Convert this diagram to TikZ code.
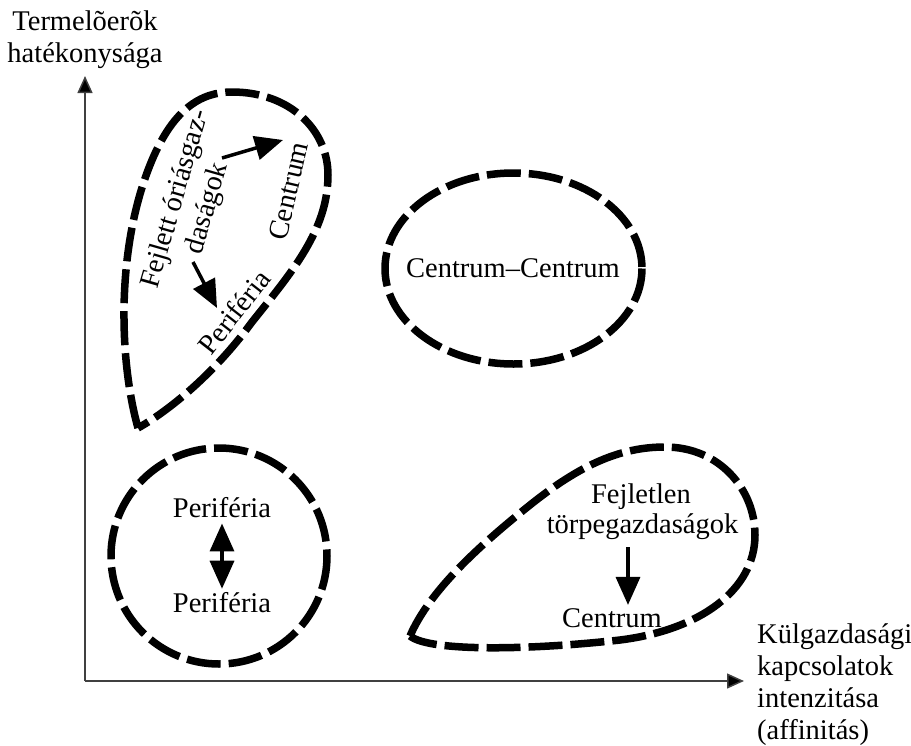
\documentclass[tikz,border=0pt]{standalone}
\usepackage{fontspec}
\setmainfont{Liberation Serif}[Ligatures=NoCommon]
\usetikzlibrary{arrows.meta}
\begin{document}
\begin{tikzpicture}[x=1pt,y=-1pt,
  txt/.style={font=\fontsize{28.5pt}{33pt}\selectfont, inner sep=0pt},
  blob/.style={line width=7.5pt, dash pattern=on 34pt off 8pt, line join=round},
  axis/.style={line width=1.5pt, draw=black!75, -{Triangle[length=17pt,width=15pt,fill=black]}},
  flow/.style={line width=3.5pt, -{Triangle[length=28pt,width=24pt]}}]
\path[use as bounding box] (0,0) rectangle (911,745);

% axes
\coordinate (O) at (85,681);
\coordinate (Ytip) at (85,76);
\coordinate (Xtip) at (744,681);
\draw[axis] (O) -- (Ytip);
\draw[axis] (O) -- (Xtip);
\node[txt,anchor=base] (yl1) at (85,30) {Termelõerõk};
\node[txt,anchor=base] (yl2) at (85,62) {hatékonysága};
\node[txt,anchor=base west] (xl1) at (757,643) {Külgazdasági};
\node[txt,anchor=base west] (xl2) at (757,675) {kapcsolatok};
\node[txt,anchor=base west] (xl3) at (757,707) {intenzitása};
\node[txt,anchor=base west] (xl4) at (757,739) {(affinitás)};

% top-left teardrop
\draw[blob] (138,428) .. controls (119,360) and (116,250) .. (150,165)
  .. controls (172,110) and (200,92) .. (232,92)
  .. controls (290,92) and (328,130) .. (328,175)
  .. controls (328,230) and (292,272) .. (252,322)
  .. controls (212,377) and (165,413) .. cycle;
\node[txt,rotate=74,align=center] (fej) at (192,204) {Fejlett óriásgaz-\\daságok};
\node[txt,rotate=77] (cen1) at (288.5,191) {Centrum};
\node[txt,rotate=52] (per1) at (234,312) {Periféria};
\coordinate (a1s) at (222,158);
\coordinate (a1e) at (283,140);
\coordinate (a2s) at (193,262);
\coordinate (a2e) at (217,308);
\draw[flow] (a1s) -- (a1e);
\draw[flow] (a2s) -- (a2e);

% ellipse
\draw[blob] (513.5,268.5) ellipse [x radius=128.5, y radius=95.5];
\node[txt,anchor=base] (cc) at (513,277) {Centrum–Centrum};

% circle
\draw[blob] (219,556) circle [radius=108];
\node[txt,anchor=base] (p1) at (222,517) {Periféria};
\node[txt,anchor=base] (p2) at (222,612) {Periféria};
\draw[line width=3.5pt, {Triangle[length=28pt,width=24pt]}-{Triangle[length=28pt,width=24pt]}, shorten <=6pt, shorten >=3pt] (p1.south) -- (p2.north);

% bottom-right teardrop
\draw[blob] (410,636) .. controls (430,590) and (480,545) .. (530,505)
  .. controls (580,465) and (620,447) .. (665,447)
  .. controls (720,447) and (755,490) .. (755,535)
  .. controls (755,590) and (700,630) .. (620,640)
  .. controls (530,650) and (430,652) .. cycle;
\node[txt,anchor=base] (fl1) at (641,503) {Fejletlen};
\node[txt,anchor=base] (fl2) at (642.5,533) {törpegazdaságok};
\node[txt,anchor=base] (cen2) at (612,627) {Centrum};
\draw[flow, shorten <=8pt, shorten >=3pt] ([xshift=-14.5pt]fl2.south) -- ([xshift=16pt]cen2.north);
\end{tikzpicture}
\end{document}
